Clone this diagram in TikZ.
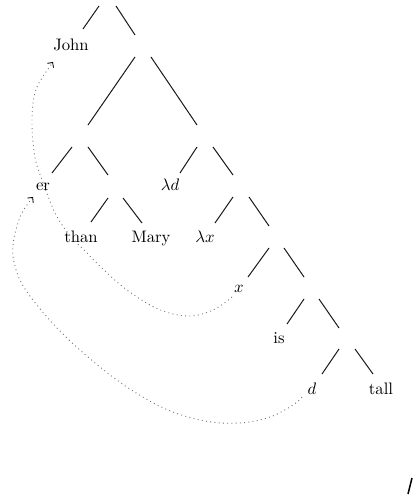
\documentclass[tikz,border=0pt]{standalone}
\usetikzlibrary{calc,arrows.meta}
\begin{document}
\begin{tikzpicture}[x=0.6pt,y=-0.6pt,
  lab/.style={inner sep=0pt, anchor=base, font=\fontsize{10}{12}\selectfont},
  empty/.style={inner sep=0pt, minimum size=0pt},
  tl/.style={line width=0.6pt, black!90},
  trace/.style={dotted, black!55, line width=0.55pt,
    -{Straight Barb[angle=90:3.2pt, black, line width=0.5pt]}}]
\useasboundingbox (0,0) rectangle (412,495);
% empty (inner) nodes
\node[empty] (R)  at (107.5,-4) {};
\node[empty] (N1) at (143,46) {};
\node[empty] (N2) at (80,136) {};
\node[empty] (N3) at (205,136) {};
\node[empty] (N4) at (115.5,187) {};
\node[empty] (N5) at (241,187) {};
\node[empty] (N6) at (276.5,237) {};
\node[empty] (N7) at (311.5,287) {};
\node[empty] (N8) at (347,338) {};
% leaves
\node[lab] (john) at (71,51) {John};
\node[lab] (er)   at (43,191) {er};
\node[lab] (than) at (81,242) {than};
\node[lab] (mary) at (151,242) {Mary};
\node[lab] (ld)   at (170,191) {$\lambda d$};
\node[lab] (lx)   at (205,242) {$\lambda x$};
\node[lab] (xv)   at (239,292) {$x$};
\node[lab] (is)   at (279,343) {is};
\node[lab] (dv)   at (312,394) {$d$};
\node[lab] (tall) at (381,394) {tall};
% branches
\draw[tl] ($(R)+(-8.5,10)$) -- ($(john.base)+(12,-22)$);
\draw[tl] ($(R)+(8.5,10)$) -- ($(N1)+(-8,-11)$);
\draw[tl] ($(N1)+(-8,11)$) -- ($(N2)+(8,-11)$);
\draw[tl] ($(N1)+(8,11)$) -- ($(N3)+(-8,-11)$);
\draw[tl] ($(N2)+(-8,11)$) -- ($(er.base)+(9,-18)$);
\draw[tl] ($(N2)+(8,11)$) -- ($(N4)+(-7.5,-12)$);
\draw[tl] ($(N4)+(-7.5,11)$) -- ($(than.base)+(10,-20)$);
\draw[tl] ($(N4)+(7.5,11)$) -- ($(mary.base)+(-9,-19)$);
\draw[tl] ($(N3)+(-8,11)$) -- ($(ld.base)+(10,-18)$);
\draw[tl] ($(N3)+(8,11)$) -- ($(N5)+(-8,-12)$);
\draw[tl] ($(N5)+(-8,10)$) -- ($(lx.base)+(10,-19)$);
\draw[tl] ($(N5)+(8,10)$) -- ($(N6)+(-7.5,-11)$);
\draw[tl] ($(N6)+(-7.5,11)$) -- ($(xv.base)+(9,-15)$);
\draw[tl] ($(N6)+(7.5,11)$) -- ($(N7)+(-7.5,-10)$);
\draw[tl] ($(N7)+(-7.5,12)$) -- ($(is.base)+(8,-19)$);
\draw[tl] ($(N7)+(7.5,12)$) -- ($(N8)+(-8,-10)$);
\draw[tl] ($(N8)+(-8,11)$) -- ($(dv.base)+(10,-20)$);
\draw[tl] ($(N8)+(8,11)$) -- ($(tall.base)+(-8,-20)$);
% movement traces
\coordinate (tipJ) at (53,62);
\coordinate (tipE) at (33,197);
\draw[trace] plot[smooth, tension=0.6] coordinates {
  ($(xv.base)+(-7,5)$) (213,310) (188,316) (158,309) (127,290) (104,270)
  (85,251) (68,233) (56,215) (48,196) (42,180) (36,162) (33,143) (32,123)
  (33,103) (37,87) (44,75) (tipJ)};
\draw[trace] plot[smooth, tension=0.6] coordinates {
  ($(dv.base)+(-10,3)$) (293,405) (270,417) (240,423) (205,421) (168,410)
  (133,391) (100,367) (67,338) (41,310) (22,284) (14,262) (13,245)
  (17,226) (23,211) (tipE)};
% stray mark at bottom right
\draw[line width=0.9pt] (408,494) -- (412,478);
\end{tikzpicture}
\end{document}
